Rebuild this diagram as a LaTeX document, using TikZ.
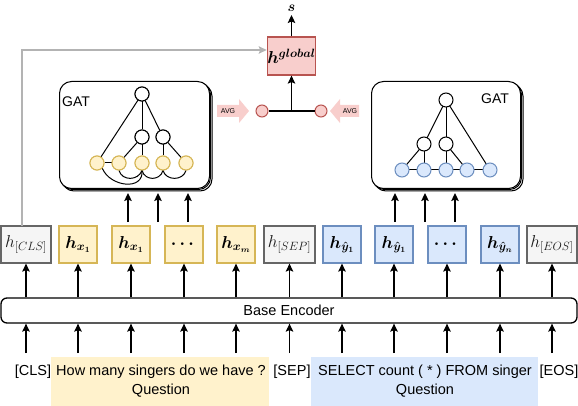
\documentclass[tikz,border=0pt]{standalone}
\usepackage[no-math]{fontspec}
\setmainfont{Liberation Sans}
\usepackage{amsmath}
\usetikzlibrary{arrows.meta}
\definecolor{yfill}{HTML}{FFF2CC}
\definecolor{ydraw}{HTML}{D6B656}
\definecolor{bfill}{HTML}{DAE8FC}
\definecolor{bdraw}{HTML}{6C8EBF}
\definecolor{rfill}{HTML}{F8CECC}
\definecolor{rdraw}{HTML}{B85450}
\definecolor{gfill}{HTML}{F5F5F5}
\definecolor{gdraw}{HTML}{666666}
\definecolor{gtext}{HTML}{1A1A1A}
\definecolor{glink}{HTML}{B3B3B3}
\begin{document}
\begin{tikzpicture}[x=1pt,y=-1pt,
 arr/.style={line width=1.3pt,-{Stealth[length=8pt,width=7.5pt,inset=1.5pt]}},
 garr/.style={line width=1.2pt,draw=glink,-{Stealth[length=8pt,width=7.5pt,inset=1.5pt]}},
 tok/.style={draw, line width=1.2pt, minimum width=38pt, minimum height=37pt, inner sep=0pt, font=\fontsize{17}{19}\selectfont},
 ytok/.style={tok, draw=ydraw, fill=yfill},
 btok/.style={tok, draw=bdraw, fill=bfill},
 gtok/.style={tok, draw=gdraw, fill=gfill, minimum width=50pt, text=gtext, font=\fontsize{18}{20}\selectfont},
 gnode/.style={circle, draw, line width=1pt, minimum size=14pt, inner sep=0pt, fill=white},
 ynode/.style={gnode, draw=ydraw, fill=yfill},
 bnode/.style={gnode, draw=bdraw, fill=bfill},
 rnode/.style={gnode, draw=rdraw, fill=rfill, minimum size=12pt},
 edge/.style={line width=1pt},
 gatbox/.style={draw, line width=1pt, rounded corners=12pt, fill=white},
 lbl/.style={font=\fontsize{14.5}{16}\selectfont, inner sep=0pt},
 avg/.style={fill=rfill},
 avgtxt/.style={font=\fontsize{7}{8}\selectfont, inner sep=0pt},
]
\useasboundingbox (0,0) rectangle (578,406);

% backgrounds of the input segments
\fill[yfill] (51,357) rectangle (269,406);
\fill[bfill] (311,357) rectangle (538,406);

% GAT boxes (stacked)
\foreach \d in {3,1.5}{
  \draw[gatbox] (59+\d,81+\d) rectangle (209+\d,188+\d);
  \draw[gatbox] (371+\d,81+\d) rectangle (520+\d,188+\d);
}
\node[gatbox, minimum width=150pt, minimum height=107pt, anchor=north west, inner sep=0pt] (gatL) at (59,81) {};
\node[gatbox, minimum width=149pt, minimum height=107pt, anchor=north west, inner sep=0pt] (gatR) at (371,81) {};
\node[lbl, font=\fontsize{14}{16}\selectfont] (gatLt) at (76,102) {GAT};
\node[lbl, font=\fontsize{14}{16}\selectfont] (gatRt) at (495,99) {GAT};

% left graph
\node[gnode] (lt) at (142,94) {};
\node[gnode] (lm1) at (142,137) {};
\node[gnode] (lm2) at (163,137) {};
\node[ynode] (lb1) at (97,163) {};
\node[ynode] (lb2) at (119,163) {};
\node[ynode] (lb3) at (142,163) {};
\node[ynode] (lb4) at (163,163) {};
\node[ynode] (lb5) at (186,163) {};
\draw[edge] (lt) -- (lb1);
\draw[edge] (lt) -- (lm1);
\draw[edge] (lt) -- (lm2);
\draw[edge] (lm1) -- (lb2);
\draw[edge] (lm1) -- (lb3);
\draw[edge] (lm2) -- (lb4);
\draw[edge] (lm2) -- (lb5);
\draw[edge] (lb1) -- (lb2);
\draw[edge] (lb1.south east) .. controls (110,187) and (144,191) .. (lb3.south);
\draw[edge] (lb2.south) .. controls (122,181) and (138,181) .. (lb3.south);
\draw[edge] (lb3.south) .. controls (145,181) and (160,181) .. (lb4.south);
\draw[edge] (lb4.south) .. controls (166,181) and (183,181) .. (lb5.south);
% circles on top of the edges
\node[gnode] at (lt) {};
\node[gnode] at (lm1) {};
\node[gnode] at (lm2) {};
\foreach \n in {lb1,lb2,lb3,lb4,lb5} \node[ynode] at (\n) {};

% right graph
\coordinate (rt0) at (446,100);
\coordinate (rm10) at (424,144);
\coordinate (rm20) at (446,144);
\draw[edge] (rt0) -- (424,144);
\draw[edge] (rt0) -- (446,144);
\draw[edge] (rt0) -- (490,170);
\draw[edge] (rm10) -- (402,170);
\draw[edge] (rm10) -- (424,170);
\draw[edge] (rm20) -- (446,170);
\draw[edge] (rm20) -- (467,170);
\draw[edge] (402,170) -- (490,170);
\node[gnode] (rt) at (rt0) {};
\node[gnode] (rm1) at (rm10) {};
\node[gnode] (rm2) at (rm20) {};
\node[bnode] (rb1) at (402,170) {};
\node[bnode] (rb2) at (424,170) {};
\node[bnode] (rb3) at (446,170) {};
\node[bnode] (rb4) at (467,170) {};
\node[bnode] (rb5) at (490,170) {};

% global part
\node[draw=rdraw, fill=rfill, line width=1.2pt, minimum width=43pt, minimum height=38pt, inner sep=0pt, font=\fontsize{16.5}{18}\selectfont] (hg) at (291.5,56) {$\boldsymbol{h^{global}}$};
\node[inner sep=1pt, font=\fontsize{14}{16}\selectfont] (s) at (291.5,8) {$\boldsymbol{s}$};
\coordinate (stip) at (291.5,15);
\draw[arr] (hg.north) -- (stip);
\node[rnode] (rl) at (262,111) {};
\node[rnode] (rr) at (321,111) {};
\coordinate (j) at (291.5,111);
\draw[line width=1.3pt] (rl) -- (rr);
\draw[arr] (j) -- (hg.south);

% AVG block arrows
\fill[avg] (217,105) -- (239,105) -- (239,99) -- (249,111) -- (239,123) -- (239,117) -- (217,117) -- cycle;
\node[avgtxt] (avgL) at (228,111) {AVG};
\fill[avg] (359,105) -- (340,105) -- (340,99) -- (330,111) -- (340,123) -- (340,117) -- (359,117) -- cycle;
\node[avgtxt] (avgR) at (350,111) {AVG};

% token boxes
\node[gtok] (cls) at (26,244.5) {$h_{[CLS]}$};
\node[ytok] (x1) at (78,244.5) {$\boldsymbol{h_{x_1}}$};
\node[ytok] (x1b) at (131,244.5) {$\boldsymbol{h_{x_1}}$};
\node[ytok] (xd) at (184,244.5) {$\boldsymbol{\cdots}$};
\node[ytok] (xm) at (236,244.5) {$\boldsymbol{h_{x_m}}$};
\node[gtok, minimum width=51pt] (sep) at (289.5,244.5) {$h_{[SEP]}$};
\node[btok] (y1) at (342,244.5) {$\boldsymbol{h_{\hat{y}_1}}$};
\node[btok] (y1b) at (394,244.5) {$\boldsymbol{h_{\hat{y}_1}}$};
\node[btok] (yd) at (447,244.5) {$\boldsymbol{\cdots}$};
\node[btok] (yn) at (500,244.5) {$\boldsymbol{h_{\hat{y}_n}}$};
\node[gtok] (eos) at (552,244.5) {$h_{[EOS]}$};

% gray skip connection
\coordinate (clsout) at (22,226);
\draw[garr] (clsout) |- ([yshift=6pt]hg.west);

% encoder
\node[draw, line width=1.3pt, rounded corners=6pt, minimum width=576pt, minimum height=25pt, lbl] (enc) at (289,310.5) {Base Encoder};

\coordinate (inrow) at (0,353);
\foreach \t in {cls,x1,x1b,xd,xm,sep,y1,y1b,yd,yn,eos}{
  \draw[arr] (enc.north -| \t) -- (\t.south);
  \draw[arr] (\t |- inrow) -- (enc.south -| \t);
}

% token -> GAT arrows
\coordinate (gb) at (0,193);
\coordinate (la1) at (128,222);
\coordinate (la2) at (158,222);
\coordinate (la3) at (188,222);
\coordinate (ra1) at (395,222);
\coordinate (ra2) at (425,222);
\coordinate (ra3) at (455,222);
\foreach \a in {la1,la2,la3,ra1,ra2,ra3}
  \draw[arr] (\a) -- (\a |- gb);

% input text
\node[lbl] (tcls) at (33,372) {[CLS]};
\node[lbl] (tq) at (161,372) {How many singers do we have ?};
\node[lbl] (tsep) at (292,372) {[SEP]};
\node[lbl] (tsql) at (425,372) {SELECT count ( * ) FROM singer};
\node[lbl] (teos) at (559,372) {[EOS]};
\node[lbl] (q1) at (161,391) {Question};
\node[lbl] (q2) at (425,391) {Question};
\end{tikzpicture}
\end{document}
